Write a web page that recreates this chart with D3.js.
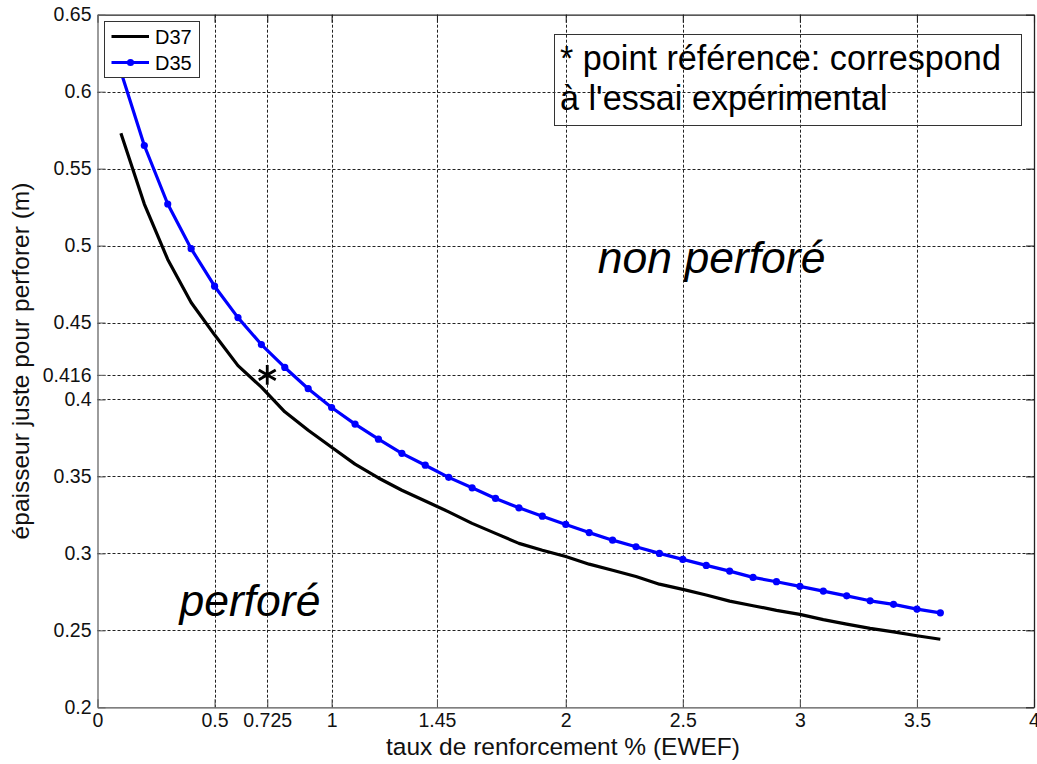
<!DOCTYPE html>
<html>
<head>
<meta charset="utf-8">
<script src="https://cdn.jsdelivr.net/npm/d3@7"></script>
<style>
  html, body { margin: 0; padding: 0; background: #fff; }
  svg { display: block; font-family: "Liberation Sans", Arial, Helvetica, sans-serif; }
</style>
</head>
<body>
<svg id="chart" width="1037" height="764"></svg>
<script>
// ---- data ----
const xValues = [0.1, 0.2, 0.3, 0.4, 0.5, 0.6, 0.7, 0.8, 0.9, 1.0,
                 1.1, 1.2, 1.3, 1.4, 1.5, 1.6, 1.7, 1.8, 1.9, 2.0,
                 2.1, 2.2, 2.3, 2.4, 2.5, 2.6, 2.7, 2.8, 2.9, 3.0,
                 3.1, 3.2, 3.3, 3.4, 3.5, 3.6];
const d37 = [0.573, 0.527, 0.491, 0.463, 0.442, 0.422, 0.408, 0.392, 0.380, 0.369,
             0.358, 0.349, 0.341, 0.334, 0.327, 0.3195, 0.313, 0.3065, 0.302, 0.298,
             0.293, 0.289, 0.285, 0.280, 0.2766, 0.273, 0.269, 0.266, 0.263, 0.2604,
             0.257, 0.254, 0.2513, 0.249, 0.2465, 0.2442];
const d35 = [0.613, 0.565, 0.527, 0.498, 0.4736, 0.4532, 0.4357, 0.4208, 0.4070, 0.3948,
             0.384, 0.3742, 0.365, 0.3573, 0.3494, 0.3426, 0.3357, 0.3296, 0.3242, 0.3188,
             0.3135, 0.3086, 0.3043, 0.3000, 0.2961, 0.2922, 0.2885, 0.2844, 0.2816, 0.2786,
             0.2755, 0.2724, 0.2692, 0.2669, 0.2638, 0.2614];
const seriesNames = ["D37", "D35"];
const xTicks = [0, 0.5, 0.725, 1, 1.45, 2, 2.5, 3, 3.5, 4];
const xTickLabels = ["0", "0.5", "0.725", "1", "1.45", "2", "2.5", "3", "3.5", "4"];
const yTicks = [0.2, 0.25, 0.3, 0.35, 0.4, 0.416, 0.45, 0.5, 0.55, 0.6, 0.65];
const yTickLabels = ["0.2", "0.25", "0.3", "0.35", "0.4", "0.416", "0.45", "0.5", "0.55", "0.6", "0.65"];
const refPoint = [0.725, 0.416];
const xTitle = "taux de renforcement % (EWEF)";
const yTitle = "épaisseur juste pour perforer (m)";
const noteLines = ["* point référence: correspond", "à l'essai expérimental"];
const regionLabels = [{text: "non perforé", x: 2.137, y: 0.4825}, {text: "perforé", x: 0.35, y: 0.2595}];

// ---- layout ----
const L = 97.5, R = 1034, T = 14.7, B = 707.3;
const svg = d3.select("#chart");
const x = d3.scaleLinear().domain([0, 4]).range([L, R]);
const y = d3.scaleLinear().domain([0.2, 0.65]).range([B, T]);

// grid
const grid = svg.append("g").attr("stroke", "#222").attr("stroke-width", 1)
  .attr("stroke-dasharray", "3,2").attr("fill", "none");
grid.selectAll("line.gx").data(xTicks.filter(v => v > 0 && v < 4)).join("line")
  .attr("x1", d => Math.round(x(d)) + 0.5).attr("x2", d => Math.round(x(d)) + 0.5)
  .attr("y1", T).attr("y2", B);
grid.selectAll("line.gy").data(yTicks.filter(v => v > 0.2 && v < 0.65)).join("line")
  .attr("y1", d => Math.round(y(d)) + 0.5).attr("y2", d => Math.round(y(d)) + 0.5)
  .attr("x1", L).attr("x2", R);

// axes (MATLAB style: inward ticks on all sides)
const tickLen = 8;
const axB = d3.axisBottom(x).tickValues(xTicks).tickFormat((d, i) => xTickLabels[i]).tickSizeInner(-tickLen).tickSizeOuter(0).tickPadding(6);
const axT = d3.axisTop(x).tickValues(xTicks).tickFormat("").tickSizeInner(-tickLen).tickSizeOuter(0);
const axL = d3.axisLeft(y).tickValues(yTicks).tickFormat((d, i) => yTickLabels[i]).tickSizeInner(-tickLen).tickSizeOuter(0).tickPadding(6);
const axR = d3.axisRight(y).tickValues(yTicks).tickFormat("").tickSizeInner(-tickLen).tickSizeOuter(0);

function styleAxis(g, col) {
  g.attr("font-size", null).attr("font-family", null);
  g.select(".domain").attr("stroke", col).attr("stroke-width", 1.3);
  g.selectAll(".tick line").attr("stroke", col).attr("stroke-width", 1.1);
  g.selectAll(".tick text").attr("fill", "#111").attr("font-size", 19.5)
    .attr("font-family", '"Liberation Sans", Arial, sans-serif');
}
svg.append("g").attr("transform", `translate(0,${B})`).call(axB).call(g => styleAxis(g, "#555"));
svg.append("g").attr("transform", `translate(0,${T})`).call(axT).call(g => styleAxis(g, "#222"));
svg.append("g").attr("transform", `translate(${L},0)`).call(axL).call(g => styleAxis(g, "#666"));
svg.append("g").attr("transform", `translate(${R},0)`).call(axR).call(g => styleAxis(g, "#222"));

// lines
const line = d3.line().x(d => x(d[0])).y(d => y(d[1]));
const data37 = xValues.map((v, i) => [v, d37[i]]);
const data35 = xValues.map((v, i) => [v, d35[i]]);
svg.append("path").datum(data37).attr("d", line).attr("fill", "none")
  .attr("stroke", "#000").attr("stroke-width", 3.2).attr("stroke-linejoin", "round");
svg.append("path").datum(data35).attr("d", line).attr("fill", "none")
  .attr("stroke", "#0000ff").attr("stroke-width", 3.2).attr("stroke-linejoin", "round");
svg.append("g").selectAll("circle").data(data35).join("circle")
  .attr("cx", d => x(d[0])).attr("cy", d => y(d[1])).attr("r", 3.6).attr("fill", "#0000ff");

// reference asterisk
svg.append("path")
  .attr("transform", `translate(${x(refPoint[0])},${y(refPoint[1])})`)
  .attr("d", d3.symbol().type(d3.symbolAsterisk).size(270)())
  .attr("fill", "none").attr("stroke", "#000").attr("stroke-width", 2.8);

// region labels
svg.append("g").selectAll("text").data(regionLabels).join("text")
  .attr("x", d => x(d.x)).attr("y", d => y(d.y))
  .attr("font-style", "italic").attr("font-size", 44.5).attr("fill", "#000")
  .text(d => d.text);

// note box
svg.append("rect").attr("x", 554.5).attr("y", 34.5).attr("width", 467).attr("height", 91)
  .attr("fill", "none").attr("stroke", "#333").attr("stroke-width", 1);
svg.append("g").selectAll("text").data(noteLines).join("text")
  .attr("x", 560).attr("y", (d, i) => 70 + i * 40)
  .attr("font-size", 34.2).attr("fill", "#000").text(d => d);

// legend
const lg = svg.append("g");
lg.append("rect").attr("x", 104.5).attr("y", 21.5).attr("width", 95).attr("height", 56)
  .attr("fill", "#fff").attr("stroke", "#333").attr("stroke-width", 1);
const legendColors = ["#000", "#0000ff"];
seriesNames.forEach((name, i) => {
  const cy = 36.5 + i * 26;
  lg.append("line").attr("x1", 111.5).attr("x2", 149).attr("y1", cy).attr("y2", cy)
    .attr("stroke", legendColors[i]).attr("stroke-width", 3.2);
  if (i === 1) lg.append("circle").attr("cx", 130.5).attr("cy", cy).attr("r", 3.6).attr("fill", legendColors[i]);
  lg.append("text").attr("x", 155).attr("y", cy).attr("dy", "0.36em")
    .attr("font-size", 20).attr("fill", "#000").text(name);
});

// axis titles
svg.append("text").attr("x", 563).attr("y", 755)
  .attr("text-anchor", "middle").attr("font-size", 24.5).attr("fill", "#111").text(xTitle);
svg.append("text").attr("transform", `translate(29,${(T + B) / 2})rotate(-90)`)
  .attr("text-anchor", "middle").attr("font-size", 24.5).attr("fill", "#111").text(yTitle);
</script>
</body>
</html>
